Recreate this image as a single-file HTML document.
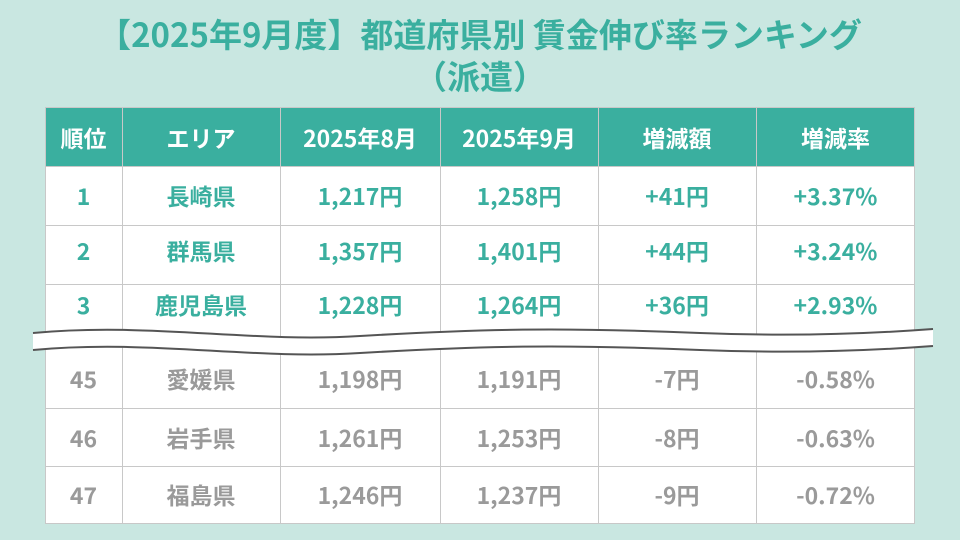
<!DOCTYPE html>
<html><head><meta charset="utf-8"><style>
body{margin:0;width:960px;height:540px;background:#c9e7e1;position:relative;overflow:hidden;font-family:"Noto Sans CJK JP","Liberation Sans",sans-serif;font-weight:bold}
.t{position:absolute;left:0;width:960px;text-align:center;color:#3aaf9f;font-size:33px;line-height:40px}
.c{position:absolute;text-align:center;font-size:23px;line-height:30px;height:30px}
.h{color:#fff}.g{color:#3aaf9f}.x{color:#9a9a9a}
</style></head><body>
<div class="t" style="top:13px">【2025年9月度】都道府県別 賃金伸び率ランキング</div>
<div class="t" style="top:55px">（派遣）</div>
<svg style="position:absolute;left:0;top:0" width="960" height="540">
<rect x="45" y="107" width="870" height="417" fill="#fff"/>
<rect x="45" y="107" width="870" height="59" fill="#3aaf9f"/>
<g stroke="#c8c8c8" stroke-width="1" fill="none">
<path d="M45.5,107V524M122.5,107V524M280.5,107V524M440.5,107V524M598.5,107V524M756.5,107V524M914.5,107V524"/>
<path d="M45,107.5H915M45,166.5H915M45,225.5H915M45,284.5H915M45,408.5H915M45,466.5H915M45,523.5H915"/>
</g>
<path d="M33,333 C150,322 250,343 360,336 C480,329 560,327 700,333 C800,337 880,333 933,329 L933,346 C880,350 800,354 700,350 C560,344 480,346 360,353 C250,360 150,339 33,350 Z" fill="#fff"/>
<path d="M33,333 C150,322 250,343 360,336 C480,329 560,327 700,333 C800,337 880,333 933,329" fill="none" stroke="#555" stroke-width="2"/>
<path d="M33,350 C150,339 250,360 360,353 C480,346 560,344 700,350 C800,354 880,350 933,346" fill="none" stroke="#555" stroke-width="2"/>
</svg>
<div id="cells"></div>
<script>
var cols=[[45,122],[122,280],[280,440],[440,598],[598,756],[756,915]];
var rows=[[137,'h',['順位','エリア','2025年8月','2025年9月','増減額','増減率']],
[195,'g',['1','長崎県','1,217円','1,258円','+41円','+3.37%']],
[250,'g',['2','群馬県','1,357円','1,401円','+44円','+3.24%']],
[304,'g',['3','鹿児島県','1,228円','1,264円','+36円','+2.93%']],
[378,'x',['45','愛媛県','1,198円','1,191円','-7円','-0.58%']],
[437,'x',['46','岩手県','1,261円','1,253円','-8円','-0.63%']],
[494,'x',['47','福島県','1,246円','1,237円','-9円','-0.72%']]];
var h='';rows.forEach(function(r){r[2].forEach(function(t,i){h+='<div class="c '+r[1]+'" style="left:'+cols[i][0]+'px;width:'+(cols[i][1]-cols[i][0])+'px;top:'+(r[0]-15)+'px">'+t+'</div>';});});
document.getElementById('cells').innerHTML=h;
</script>
</body></html>
